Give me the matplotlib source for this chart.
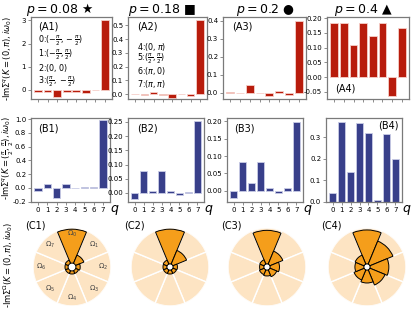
import numpy as np
import matplotlib
matplotlib.use("Agg")
import matplotlib.pyplot as plt

W, H = 411, 313
fig = plt.figure(figsize=(W / 100, H / 100), dpi=100)

q = np.arange(8)
q_labels = [str(i) for i in q]

titles = ["$p=0.08$ \u2605", "$p=0.18$ \u25A0", "$p=0.2$ \u25CF", "$p=0.4$ \u25B2"]

# Row A: -Im Sigma^q(K=(0,pi), i w0)
A1 = [-0.11, -0.10, -0.32, -0.11, -0.11, -0.13, -0.02, 3.02]
A2 = [-0.003, -0.010, 0.017, -0.008, -0.026, -0.003, -0.015, 0.535]
A3 = [0.005, -0.003, 0.044, -0.003, -0.020, 0.006, -0.015, 0.400]
A4 = [0.182, 0.185, 0.109, 0.185, 0.138, 0.182, -0.065, 0.166]
A_data = [A1, A2, A3, A4]
A_ylim = [(-0.4, 3.15), (-0.036, 0.56), (-0.036, 0.42), (-0.074, 0.204)]
A_ticks = [[0, 1, 2, 3], [0.0, 0.1, 0.2, 0.3, 0.4, 0.5],
           [0.0, 0.1, 0.2, 0.3, 0.4], [-0.05, 0.0, 0.05, 0.10, 0.15, 0.20]]
A_tickfmt = ["{:.0f}", "{:.1f}", "{:.1f}", "{:.2f}"]

# Row B: -Im Sigma^q(K=(pi/2,pi/2), i w0)
B1 = [-0.05, 0.063, -0.15, 0.063, -0.006, 0.018, 0.02, 0.985]
B2 = [-0.020, 0.076, 0.007, 0.079, 0.007, -0.007, 0.003, 0.252]
B3 = [-0.021, 0.083, 0.021, 0.082, 0.008, -0.007, 0.008, 0.198]
B4 = [0.040, 0.373, 0.137, 0.367, 0.319, 0.008, 0.314, 0.199]
B_data = [B1, B2, B3, B4]
B_ylim = [(-0.205, 1.015), (-0.032, 0.264), (-0.033, 0.21), (0.0, 0.39)]
B_ticks = [[-0.2, 0.0, 0.2, 0.4, 0.6, 0.8, 1.0],
           [0.0, 0.05, 0.10, 0.15, 0.20, 0.25],
           [0.0, 0.05, 0.10, 0.15, 0.20],
           [0.0, 0.1, 0.2, 0.3]]
B_tickfmt = ["{:.1f}", "{:.2f}", "{:.2f}", "{:.1f}"]

# Row C: -Im Sigma^Omega(K=(0,pi), i w0), per sector Omega_0..Omega_7
C_hole = [0.10, 0.08, 0.08, 0.08]
C1 = [0.87, 0.23, 0.11, 0.08, 0.08, 0.08, 0.08, 0.09]
C2 = [0.89, 0.38, 0.11, 0.10, 0.10, 0.10, 0.10, 0.11]
C3 = [0.86, 0.36, 0.24, 0.19, 0.15, 0.13, 0.11, 0.12]
C4 = [0.87, 0.64, 0.48, 0.42, 0.33, 0.28, 0.23, 0.25]
C_data = [C1, C2, C3, C4]
omega_labels = [r"$\Omega_{%d}$" % i for i in range(8)]

coord_left = ["0:$(-\\frac{\\pi}{2},-\\frac{\\pi}{2})$",
              "1:$(-\\frac{\\pi}{2},\\frac{\\pi}{2})$",
              "2:$(0,0)$",
              "3:$(\\frac{\\pi}{2},-\\frac{\\pi}{2})$"]
coord_right = ["4:$(0,\\pi)$",
               "5:$(\\frac{\\pi}{2},\\frac{\\pi}{2})$",
               "6:$(\\pi,0)$",
               "7:$(\\pi,\\pi)$"]

red = "#b81c0c"
navy = "#383f8a"
orange = "#f59e1b"
peach = "#fde4c3"
spine_c = "#7a7a7a"

A_lr = [(31, 112), (128, 207), (223, 306), (327, 409)]
B_lr = [(31, 110), (128, 204), (227, 303), (326, 402)]


def box(l, t, w, h):
    return [l / W, 1 - (t + h) / H, w / W, h / H]


def style(ax):
    for s in ax.spines.values():
        s.set_color(spine_c)
        s.set_linewidth(0.9)
    ax.tick_params(labelsize=5, length=2, width=0.6, color=spine_c, pad=1.5)
    ax.set_xlim(-0.75, 7.75)
    ax.set_xticks(q)


# Row A
A_axes = []
for i in range(4):
    l, r = A_lr[i]
    ax = fig.add_axes(box(l, 17, r - l, 82))
    ax.bar(q, A_data[i], width=0.8, color=red, edgecolor="#f6cfc9", linewidth=0.6)
    style(ax)
    ax.set_ylim(*A_ylim[i])
    ax.set_yticks(A_ticks[i])
    ax.set_yticklabels([A_tickfmt[i].format(v) for v in A_ticks[i]])
    ax.set_xticklabels([])
    A_axes.append(ax)

A_axes[0].text(0.09, 0.94, "(A1)", transform=A_axes[0].transAxes, fontsize=7, va="top")
A_axes[1].text(0.12, 0.94, "(A2)", transform=A_axes[1].transAxes, fontsize=7, va="top")
A_axes[2].text(0.11, 0.94, "(A3)", transform=A_axes[2].transAxes, fontsize=7, va="top")
A_axes[3].text(0.10, 0.07, "(A4)", transform=A_axes[3].transAxes, fontsize=7, va="bottom")
for k, s in enumerate(coord_left):
    A_axes[0].text(0.09, 0.71 - k * 0.166, s, transform=A_axes[0].transAxes,
                   fontsize=5.8, va="center")
for k, s in enumerate(coord_right):
    A_axes[1].text(0.11, 0.64 - k * 0.152, s, transform=A_axes[1].transAxes,
                   fontsize=5.8, va="center")

# Titles
title_x = [60, 162, 265, 363]
for i in range(4):
    fig.text(title_x[i] / W, 1 - 9.5 / H, titles[i], fontsize=9, ha="center", va="center")

# Row B
B_axes = []
for i in range(4):
    l, r = B_lr[i]
    ax = fig.add_axes(box(l, 118, r - l, 84))
    ax.bar(q, B_data[i], width=0.8, color=navy, edgecolor="#c9cce6", linewidth=0.6)
    style(ax)
    ax.set_ylim(*B_ylim[i])
    ax.set_yticks(B_ticks[i])
    ax.set_yticklabels([B_tickfmt[i].format(v) for v in B_ticks[i]])
    ax.set_xticklabels(q_labels)
    ax.text(0.995, -0.01, "$q$", transform=ax.transAxes, fontsize=9, ha="left", va="top")
    B_axes.append(ax)

B_axes[0].text(0.09, 0.94, "(B1)", transform=B_axes[0].transAxes, fontsize=7, va="top")
B_axes[1].text(0.12, 0.93, "(B2)", transform=B_axes[1].transAxes, fontsize=7, va="top")
B_axes[2].text(0.10, 0.94, "(B3)", transform=B_axes[2].transAxes, fontsize=7, va="top")
B_axes[3].text(0.95, 0.97, "(B4)", transform=B_axes[3].transAxes, fontsize=7, va="top", ha="right")

# Row C (polar)
theta = np.arange(8) * 2 * np.pi / 8
wdt = 2 * np.pi / 8
c_cx = [72, 170, 267, 367]
c_cy = 267
rad = 39
c_lab = [(25, 225), (124, 225), (221, 226), (321, 226)]
for i in range(4):
    ax = fig.add_axes(box(c_cx[i] - rad, c_cy - rad, 2 * rad, 2 * rad), projection="polar")
    ax.set_theta_zero_location("N")
    ax.set_theta_direction(-1)
    hole = C_hole[i]
    ax.bar(theta, [1 - hole] * 8, width=wdt, bottom=hole, color=peach,
           edgecolor="white", linewidth=1.0)
    ax.bar(theta, C_data[i], width=wdt, bottom=hole, color=orange,
           edgecolor="black", linewidth=0.7)
    ax.set_ylim(0, 1)
    ax.set_xticks([])
    ax.set_yticks([])
    ax.grid(False)
    ax.spines["polar"].set_visible(False)
    if i == 0:
        for k in range(8):
            r = 0.85 if k == 0 else 0.8
            ax.text(theta[k], r, omega_labels[k], fontsize=5, color="#444444",
                    ha="center", va="center")
    fig.text(c_lab[i][0] / W, 1 - c_lab[i][1] / H, "(C%d)" % (i + 1), fontsize=7,
             ha="left", va="center")

# Y labels
fig.text(8 / W, 1 - 58 / H, r"-Im$\Sigma^q(K=(0,\pi),i\omega_0)$", rotation=90,
         fontsize=6, ha="center", va="center")
fig.text(8 / W, 1 - 158 / H, r"-Im$\Sigma^q(K=(\frac{\pi}{2},\frac{\pi}{2}),i\omega_0)$",
         rotation=90, fontsize=6, ha="center", va="center")
fig.text(8 / W, 1 - 265 / H, r"-Im$\Sigma^\Omega(K=(0,\pi),i\omega_0)$", rotation=90,
         fontsize=6, ha="center", va="center")

fig.savefig("out.png", dpi=100)
